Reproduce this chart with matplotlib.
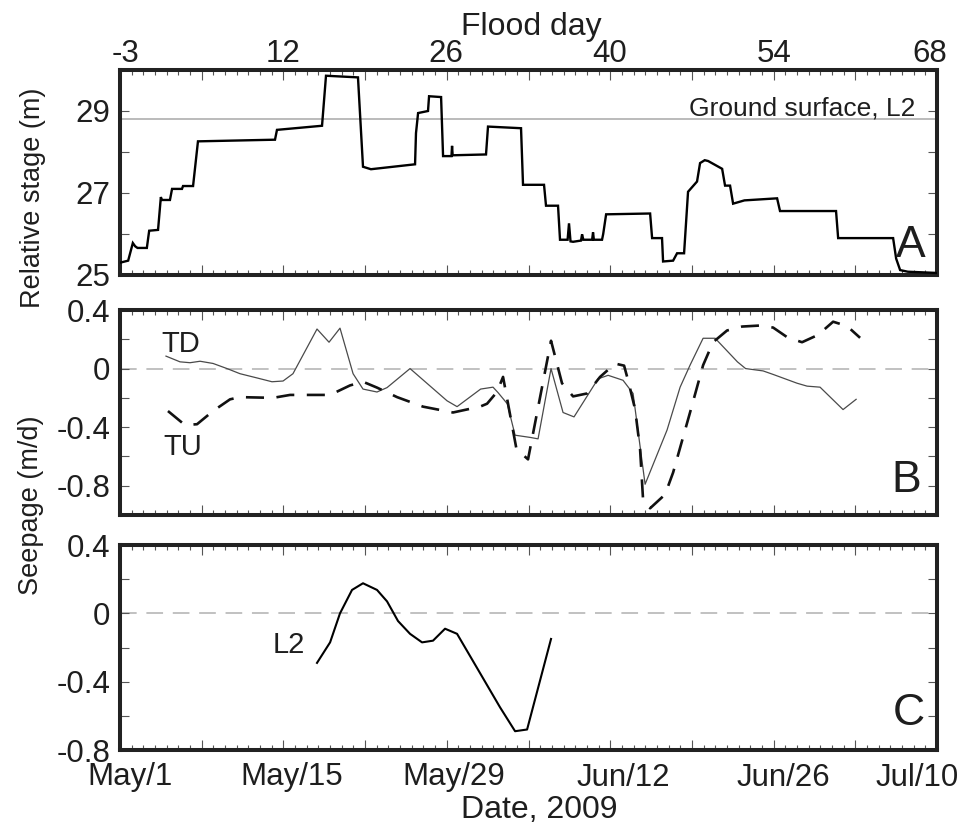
import numpy as np
import pandas as pd
import matplotlib
matplotlib.use("Agg")
import matplotlib.pyplot as plt
from matplotlib.ticker import FixedLocator, MultipleLocator, FixedFormatter
from matplotlib import transforms

plt.rcParams['font.family'] = ['Liberation Sans', 'DejaVu Sans']
plt.rcParams['axes.unicode_minus'] = False
plt.rcParams['lines.scale_dashes'] = False

# ---- data (x = days since May 1, 2009) ----
stage_day = [0, 0.7, 1.1, 1.3, 1.5, 2.3, 2.5, 3.26, 3.5, 3.6, 4.28, 4.46, 5.31, 5.4, 6.26, 6.68,
             13.28, 13.45, 17.31, 17.65, 20.39, 20.82, 21.5, 25.28, 25.36, 25.54, 26.39, 26.48,
             27.51, 27.68, 28.4, 28.45, 28.5, 31.36, 31.53, 34.36, 34.53, 36.33, 36.5, 37.53,
             37.70, 38.35, 38.47, 38.6, 38.82, 39.5, 39.59, 39.7, 40.45, 40.53, 40.6, 41.30,
             41.4, 41.65, 45.42, 45.59, 46.44, 46.53, 47.39, 47.73, 48.33, 48.67, 49.44, 49.70,
             50.1, 50.39, 51.59, 51.84, 52.27, 52.53, 53.5, 56.30, 56.55, 61.35, 61.53, 66.24,
             66.5, 66.84, 67.5, 70.0]
stage_m = [25.3, 25.35, 25.78, 25.7, 25.66, 25.66, 26.08, 26.1, 26.9, 26.83, 26.83, 27.1, 27.1,
           27.17, 27.17, 28.26, 28.3, 28.54, 28.64, 29.86, 29.82, 27.64, 27.58, 27.7, 28.46,
           28.95, 29.0, 29.36, 29.34, 27.9, 27.9, 28.15, 27.92, 27.94, 28.62, 28.58, 27.2, 27.2,
           26.69, 26.69, 25.86, 25.86, 26.26, 25.82, 25.81, 25.84, 25.99, 25.86, 25.86, 26.04,
           25.86, 25.86, 26.0, 26.48, 26.5, 25.9, 25.9, 25.33, 25.35, 25.53, 25.53, 27.03, 27.28,
           27.73, 27.8, 27.78, 27.59, 27.18, 27.18, 26.74, 26.82, 26.87, 26.56, 26.56, 25.9,
           25.9, 25.4, 25.12, 25.08, 25.05]
ground_surface_l2 = 28.8

td_day = [3.94, 5.14, 6.0, 6.86, 7.97, 9.17, 10.28, 11.74, 13.02, 13.97, 14.82, 16.88, 17.91,
          18.85, 19.97, 20.82, 22.02, 22.88, 24.85, 28.02, 28.88, 30.9, 31.96, 32.4, 33.18,
          33.85, 35.13, 35.82, 36.93, 37.96, 38.9, 40.96, 41.82, 43.1, 43.96, 44.99, 46.87,
          47.99, 48.84, 49.96, 50.99, 52.9, 53.6, 55.1, 55.96, 58.01, 58.87, 59.98, 61.95, 63.07]
td_seep = [0.085, 0.046, 0.04, 0.05, 0.035, 0.0, -0.035, -0.064, -0.09, -0.085, -0.035, 0.27,
           0.18, 0.276, -0.035, -0.14, -0.16, -0.13, 0.0, -0.22, -0.26, -0.14, -0.127, -0.165,
           -0.24, -0.455, -0.47, -0.48, 0.0, -0.3, -0.33, -0.07, -0.046, -0.08, -0.17, -0.79,
           -0.42, -0.127, 0.023, 0.207, 0.207, 0.046, 0.0, -0.016, -0.04, -0.1, -0.12, -0.127,
           -0.28, -0.21]

tu_day = [4.11, 5.57, 6.6, 7.97, 9.43, 10.28, 13.11, 14.57, 18.0, 19.71, 20.82, 22.02, 23.74,
          25.96, 28.53, 30.85, 31.45, 32.3, 32.82, 33.97, 34.96, 36.93, 37.87, 38.82, 40.02,
          41.13, 42.42, 43.19, 43.53, 44.13, 44.56, 44.82, 45.42, 46.7, 47.39, 48.84, 49.96,
          50.81, 52.01, 53.3, 54.84, 55.96, 57.24, 58.44, 59.81, 61.1, 62.3, 63.41]
tu_seep = [-0.29, -0.386, -0.38, -0.29, -0.21, -0.195, -0.2, -0.18, -0.18, -0.115, -0.09, -0.13,
           -0.195, -0.26, -0.30, -0.26, -0.24, -0.16, -0.057, -0.55, -0.62, 0.19, -0.1, -0.19,
           -0.17, -0.057, 0.034, 0.02, -0.08, -0.276, -0.55, -0.9, -0.954, -0.86, -0.71, -0.3,
           0.023, 0.18, 0.26, 0.287, 0.294, 0.28, 0.21, 0.18, 0.23, 0.32, 0.29, 0.21]

l2_day = [16.88, 18.0, 18.85, 19.88, 20.82, 22.02, 22.88, 23.82, 24.85, 25.88, 26.82, 27.85,
          28.88, 30.85, 32.56, 33.85, 34.88, 36.93]
l2_seep = [-0.29, -0.17, 0.0, 0.137, 0.176, 0.137, 0.07, -0.045, -0.12, -0.17, -0.16, -0.09,
           -0.12, -0.35, -0.55, -0.69, -0.68, -0.15]

start = pd.Timestamp('2009-05-01')
date_ticks = ['2009-05-01', '2009-05-15', '2009-05-29', '2009-06-12', '2009-06-26', '2009-07-10']
date_labels = ['May/1', 'May/15', 'May/29', 'Jun/12', 'Jun/26', 'Jul/10']
flood_day_labels = ['-3', '12', '26', '40', '54', '68']
tick_days = [(pd.Timestamp(d) - start).days for d in date_ticks]
x_end = tick_days[-1]

# ---- figure ----
TXT = '#1e1e1e'
W, H = 966, 827
fig = plt.figure(figsize=(W / 100, H / 100), dpi=100)

def frame(top_px, bottom_px):
    return [120 / W, 1 - bottom_px / H, (937 - 120) / W, (bottom_px - top_px) / H]

axA = fig.add_axes(frame(70, 275))
axB = fig.add_axes(frame(310, 515))
axC = fig.add_axes(frame(545, 750))

TICK_FS = 22.5

def style(ax, ymajor, yminor):
    ax.set_xlim(0, x_end)
    for s in ax.spines.values():
        s.set_linewidth(2.9)
        s.set_color('#222222')
    ax.xaxis.set_major_locator(MultipleLocator(7))
    ax.xaxis.set_minor_locator(MultipleLocator(1))
    ax.yaxis.set_major_locator(FixedLocator(ymajor))
    ax.yaxis.set_minor_locator(FixedLocator(yminor))
    ax.tick_params(which='both', direction='in', top=True, bottom=True, left=True, right=True,
                   color='#555555', width=0.8, labelsize=TICK_FS, labelcolor=TXT, pad=7)
    ax.tick_params(axis='x', which='major', length=7.5)
    ax.tick_params(axis='x', which='minor', length=3.8)
    ax.tick_params(axis='y', which='both', length=6.5)
    ax.set_xticklabels([])
    ax.yaxis.set_major_formatter(FixedFormatter([('%g' % v) for v in ymajor]))

style(axA, [25, 27, 29], [26, 28, 30])
axA.set_ylim(25, 30)
style(axB, [-0.8, -0.4, 0, 0.4], [-1.0, -0.6, -0.2, 0.2])
axB.set_ylim(-1.0, 0.4)
style(axC, [-0.8, -0.4, 0, 0.4], [-0.6, -0.2, 0.2])
axC.set_ylim(-0.8, 0.4)

def nudge(label, dx_px):
    label.set_transform(label.get_transform() +
                        transforms.ScaledTranslation(dx_px / 100, 0, fig.dpi_scale_trans))

# Panel A: river stage with ground surface reference
axA.axhline(ground_surface_l2, color='#a8a8a8', lw=1.1, zorder=1)
axA.plot(stage_day, stage_m, color='black', lw=1.7, solid_joinstyle='miter', zorder=3)
off = transforms.offset_copy(axA.get_yaxis_transform(), fig=fig, x=0, y=3, units='points')
axA.text(0.973, ground_surface_l2, 'Ground surface, L2',
         transform=transforms.blended_transform_factory(axA.transAxes, off),
         ha='right', va='baseline', fontsize=19, color=TXT)
axA.text(0.968, 0.088, 'A', transform=axA.transAxes, ha='center', va='baseline', fontsize=32, color=TXT)

# Top axis: flood day
sec = axA.secondary_xaxis('top')
sec.set_xticks(tick_days)
sec.set_xticklabels(flood_day_labels)
sec.tick_params(length=0, labelsize=TICK_FS, labelcolor=TXT, pad=1)
sec.spines['top'].set_visible(False)
for lab, dx in zip(sec.get_xticklabels(), [5, 0, -1, -1, 0, -7]):
    nudge(lab, dx)

# Panel B: seepage TD and TU
axB.axhline(0, color='#b0b0b0', lw=1.1, dashes=(12, 7), zorder=1)
axB.plot(td_day, td_seep, color='#4a4a4a', lw=0.9, zorder=3)
axB.plot(tu_day, tu_seep, color='#111111', lw=1.9, dashes=(13, 9), zorder=3)
axB.text(0.051, 0.795, 'TD', transform=axB.transAxes, ha='left', va='baseline', fontsize=21, color=TXT)
axB.text(0.053, 0.293, 'TU', transform=axB.transAxes, ha='left', va='baseline', fontsize=21, color=TXT)
axB.text(0.962, 0.112, 'B', transform=axB.transAxes, ha='center', va='baseline', fontsize=32, color=TXT)

# Panel C: seepage L2
axC.axhline(0, color='#b0b0b0', lw=1.1, dashes=(12, 7), zorder=1)
axC.plot(l2_day, l2_seep, color='black', lw=1.5, zorder=3)
axC.text(0.187, 0.473, 'L2', transform=axC.transAxes, ha='left', va='baseline', fontsize=21, color=TXT)
axC.text(0.966, 0.122, 'C', transform=axC.transAxes, ha='center', va='baseline', fontsize=32, color=TXT)

# Bottom date labels
major_days = list(np.arange(0, x_end + 1, 7))
axC.set_xticks(major_days)
axC.set_xticklabels([date_labels[tick_days.index(d)] if d in tick_days else '' for d in major_days])
axC.tick_params(axis='x', which='major', pad=9)
date_nudge = dict(zip(tick_days, [10, 8, 7, 13, 10, -20]))
for lab, d in zip(axC.get_xticklabels(), major_days):
    if d in date_nudge:
        nudge(lab, date_nudge[d])

fig.text(531 / W, 1 - 35 / H, 'Flood day', ha='center', va='baseline', fontsize=23, color=TXT)
fig.text(539 / W, 1 - 818 / H, 'Date, 2009', ha='center', va='baseline', fontsize=23, color=TXT)
fig.text(33 / W, 1 - 198 / H, 'Relative stage (m)', rotation=90, ha='center', va='center', fontsize=19.5, color=TXT)
fig.text(31 / W, 1 - 505 / H, 'Seepage (m/d)', rotation=90, ha='center', va='center', fontsize=19.5, color=TXT)

fig.savefig('out.png', dpi=100, facecolor='white')
